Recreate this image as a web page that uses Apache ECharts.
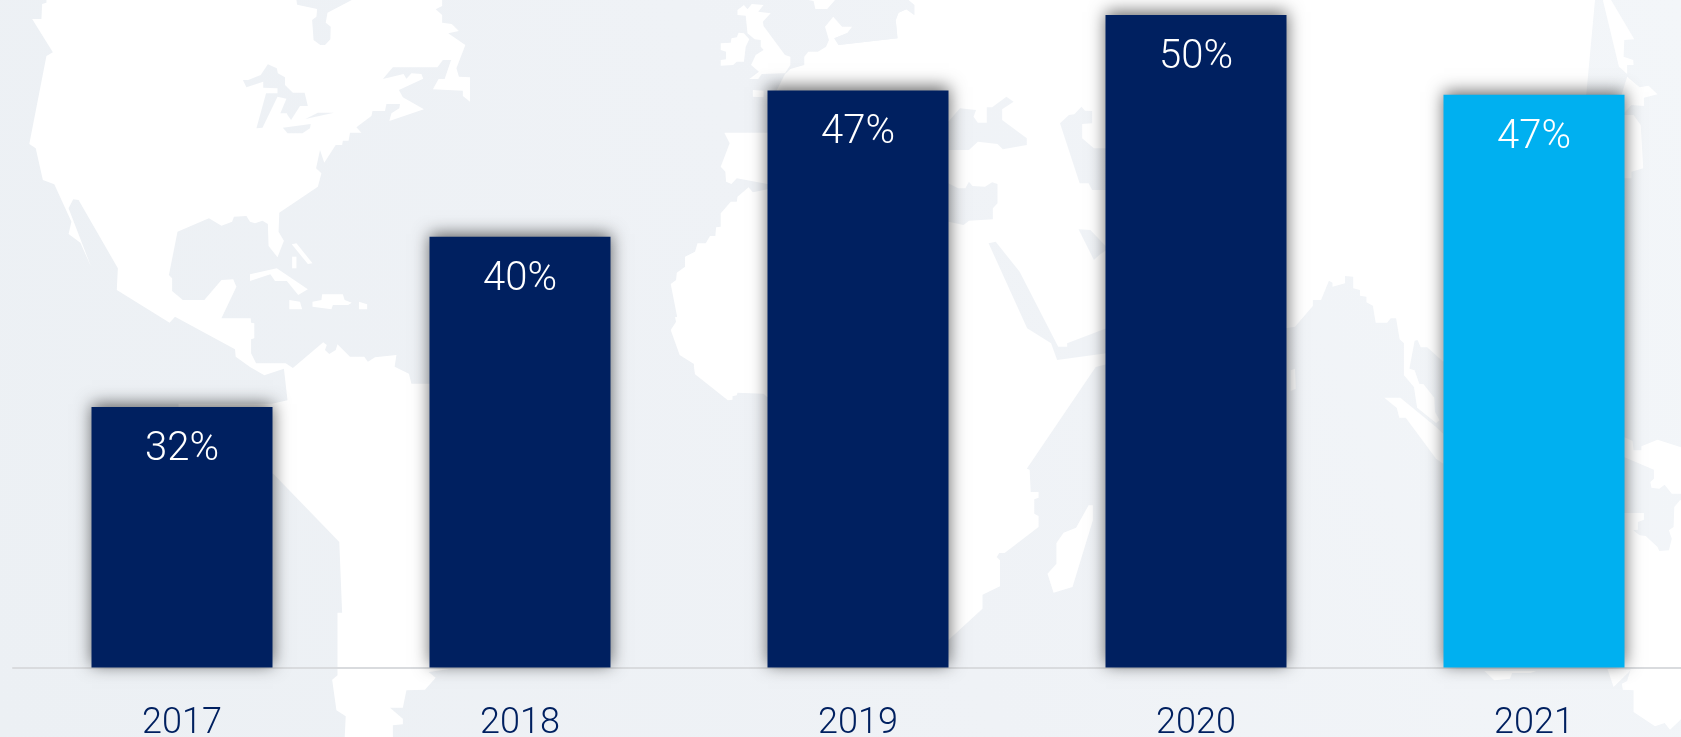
<!DOCTYPE html>
<html>
<head>
<meta charset="utf-8">
<style>html,body{margin:0;padding:0;background:#eef1f5}#c{width:1681px;height:737px}</style>
<script src="https://cdn.jsdelivr.net/npm/echarts@6/dist/echarts.min.js"></script>
</head>
<body>
<div id="c"></div>
<script>
const years = ['2017', '2018', '2019', '2020', '2021'];
const shares = [32.1, 40.0, 46.8, 50.3, 46.6];
const barColors = ['#002060', '#002060', '#002060', '#002060', '#00B0F0'];

const z = (ox, oy, p) => { const r = []; for (let i = 0; i < p.length; i += 2) r.push([ox + p[i] / 2.8, oy + p[i + 1] / 3]); return r; };
const A = [0, 0], B = [560, 0], C = [1120, 0], D = [0, 367], E = [560, 367], F = [1120, 367];
const zz = (o, p) => z(o[0], o[1], p);

const land = [
  // Americas
  [].concat(
    zz(A, [130,0,830,0,832,14,888,27,886,50,874,60,878,120,897,135,910,135,925,118,926,80,912,68,917,38,985,0,1238,0,1238,18,1220,28,1238,45,1238,68,1265,72,1285,93,1255,100,1303,135,1278,205,1285,230,1316,232,1316,305,1296,288,1296,272,1212,268,1228,237,1245,237,1263,180,1240,180,1225,202,1100,202,1072,237,1130,222,1138,236,1152,220,1180,222,1185,236,1117,270,1128,292,1187,328,1090,363,1096,340,1118,325,1120,312,1082,312,1078,333,1043,333,1040,348,998,382,1012,398,980,398,976,422,960,422,958,435,940,435,908,488,896,450,885,505,900,520,890,560,782,638,780,695,795,722,777,772,752,738,750,672,735,662,714,670,700,665,690,648,655,650,650,665,620,677,585,655,497,695,473,825,482,835,482,873,512,900,572,900,620,840,653,838,662,860,620,955,702,955,703,968,712,970,712,1015,703,1018,703,1060,717,1090,800,1090,820,1104,905,1027,915,1035,910,1050,922,1062,940,1050,945,1033,980,1070,1020,1070,1030,1085,1050,1072,1110,1065,1105,1100]),
    zz(D, [1145,20,1152,50,1300,50,1300,900,1200,915,1220,932,1190,968,1138,970,1128,1022,1092,1022,1128,1055,1128,1072,1100,1075,1100,1115,965,1115,968,1048,942,1030,930,938,945,925,945,737,958,737,950,525,945,540,950,525,765,320,500,300,500,110,762,110,805,100,795,5,740,25,700,0]),
    zz(A, [660,1070,658,1048,490,950,475,968,327,870,330,805,220,600,205,598,192,625,255,800,225,728,192,702,200,665,152,553,120,540,100,445,82,432,130,168,148,157,90,57,116,57,118,12,130,8])
  ),
  // Caribbean
  zz(A, [700,823,775,805,862,868,835,885,803,843,770,843,757,823,700,843]),
  zz(A, [875,905,900,900,902,883,960,883,965,900,985,908,975,915,932,915,928,928,875,920]),
  zz(A, [810,900,840,905,846,928,810,928]),
  zz(A, [1005,905,1028,913,1028,928,1005,928]),
  zz(A, [817,733,830,730,875,790,862,792]),
  zz(A, [818,770,830,770,830,805,818,805]),
  // Ireland, Britain, north Europe piece
  zz(B, [450,130,478,128,480,115,495,112,500,98,515,100,530,118,520,140,515,185,495,185,485,195,450,197,450,180,465,178,465,155,450,150]),
  zz(B, [497,30,515,15,525,28,537,12,570,15,555,35,590,40,568,65,570,78,630,165,645,170,645,195,630,220,565,222,555,237,530,237,557,215,535,195,548,165,570,150,562,140,562,120,545,118,525,100,520,47,497,45]),
  zz(B, [695,0,710,3,715,27,748,27,770,0]),
  zz(B, [540,270,570,272,570,292,540,290]),
  // Eurasia and Africa
  [].concat(
    zz(B, [630,222,645,207,684,195,684,170,695,155,722,155,745,140,753,120,742,80,765,50,790,80,818,80,805,98,768,115,780,135,945,115,940,60,948,38,970,28,992,45,992,15,975,0]),
    zz(C, [1330,0,1305,290,1000,900,905,1085,860,1042,842,1042,833,1020,825,1022,810,1108,795,1105,795,1030,783,1018,773,955,758,955,748,968,716,968,708,917,690,907,690,890,672,887,672,870,653,865,653,830,630,828,630,850,595,860,595,848,585,842,563,900,540,900,540,918,490,980,464,985,300,1000]),
    zz(E, [1500,0,1307,305,1315,308,1318,375,1340,375,1340,392,1328,397,1328,440,1340,447,1340,480,1245,558,1230,558,1223,570,1232,580,1232,658,1183,683,1183,725,1087,820,1000,880,700,880,600,90,580,90,570,80,497,77,495,85,483,88,483,98,470,100,378,22,375,0]),
    zz(B, [375,1092,335,1065,310,990,325,965,322,952,328,950,310,852,325,840,327,818,350,800,350,770,378,755,385,730,408,730,420,708,435,708,437,682,450,680,450,640,478,605,495,605,497,590,528,562,540,577,581,568,700,540,700,570,581,552,495,535,480,552,465,545,463,515,450,500,475,430,460,398,581,398,700,380,700,290,600,285])
  ),
  // Madagascar, Sri Lanka, SE Asia
  zz(E, [1365,620,1390,590,1390,528,1410,497,1445,482,1480,415,1492,415,1492,460,1435,660,1382,677]),
  zz(F, [478,10,490,5,492,65,478,72]),
  zz(F, [795,0,825,10,838,50,850,52,880,92,882,135,895,160,885,168,832,122,823,60,795,25]),
  zz(F, [740,92,785,92,885,180,905,200,905,290,885,275,800,152,782,152,775,123]),
  // Japan, east Asia fragments
  zz(C, [1352,0,1375,0,1440,118,1412,120,1410,170,1437,180,1438,195,1420,195,1420,222,1397,200]),
  zz(C, [1400,300,1420,230,1455,262,1480,257,1505,283,1467,293,1467,318,1432,315,1411,340]),
  zz(C, [1400,345,1438,345,1458,375,1465,505,1432,515,1432,535,1400,535]),
  // Indonesia and Australia, right of the last bar
  zz(F, [1400,205,1435,222,1438,250,1460,250,1460,238,1505,218,1575,242,1575,380,1545,380,1525,353,1510,365,1488,362,1485,345,1495,335,1495,308,1411,270,1400,265]),
  zz(F, [1400,438,1467,438,1467,458,1450,465,1450,488,1437,490,1455,505,1472,507,1505,540,1510,552,1537,550,1545,515,1537,490,1550,480,1552,420,1568,400,1575,400,1575,900,1400,900]),
  zz(F, [1430,905,1575,905,1575,1050,1568,1060,1540,1088,1525,1068,1498,1078,1438,1035,1438,970,1408,968,1405,950,1420,942]),
  zz(F, [1365,905,1430,910,1382,960]),
  zz(F, [1020,912,1165,912,1150,918,1098,918,1092,935,1048,940])
];
const seas = [
  // Great Lakes
  zz(A, [680,240,695,240,730,225,750,193,775,205,778,220,798,232,798,255,820,278,853,278,862,318,840,318,815,360,805,345,803,340,785,340,802,296,777,290,735,383,718,385,745,280,777,280,777,265,737,263,737,245,690,262]),
  zz(A, [792,383,870,372,868,385,847,400,805,400]),
  zz(A, [855,357,890,338,935,338]),
  // Black Sea, east Mediterranean, Red Sea, Gulf, Caspian
  zz(B, [1087,365,1120,325,1165,330,1158,350,1170,368,1195,368,1195,322,1210,322,1250,290,1270,305,1238,328,1238,360,1307,415,1307,435,1240,448,1225,432,1170,425,1145,450,1130,450,1087,450]),
  zz(B, [1087,550,1115,565,1135,565,1145,545,1155,558,1190,560,1210,547,1225,552,1225,610,1212,625,1212,658,1145,662,1130,675,1087,665]),
  zz(B, [1200,730,1220,725,1287,815,1395,1040,1420,1040,1420,1030,1530,985,1530,1060,1392,1080,1375,1030,1308,985]),
  zz(B, [1452,688,1485,690,1530,740,1530,750,1510,765,1495,780]),
  zz(B, [1400,370,1425,345,1440,343,1460,320,1470,332,1490,333,1490,370,1462,372,1462,415,1495,445,1530,445,1530,570,1490,570,1480,550,1455,550]),
  // Baltic
  zz(B, [882,0,975,0,992,15,992,45,970,28,948,38,940,60,945,115,780,135,768,115,805,100,818,82,875,72])
];

const pale = {
  type: 'linear', x: 0, y: 737, x2: 1681, y2: 0, global: true,
  colorStops: [{ offset: 0, color: '#ecf0f4' }, { offset: 0.5, color: '#eff2f6' }, { offset: 1, color: '#f3f6f9' }]
};
const poly = (points, fill) => ({ type: 'polygon', silent: true, shape: { points }, style: { fill, stroke: null } });

const chart = echarts.init(document.getElementById('c'), null, { width: 1681, height: 737 });
chart.setOption({
  animation: false,
  backgroundColor: pale,
  graphic: { elements: land.map(p => poly(p, '#ffffff')).concat(seas.map(p => poly(p, pale))) },
  grid: { left: 13, top: 0, width: 1690, height: 667.5, outerBoundsMode: 'none', containLabel: false },
  xAxis: {
    type: 'category',
    data: years,
    axisTick: { show: false },
    axisLine: { lineStyle: { color: '#d9dbde', width: 2 } },
    axisLabel: { color: '#002060', fontFamily: 'Roboto', fontWeight: 300, fontSize: 36, margin: 36, lineHeight: 40 }
  },
  yAxis: { type: 'value', min: 20, max: 51, show: false, splitLine: { show: false } },
  series: [{
    type: 'bar',
    barWidth: 181,
    data: shares.map((v, i) => ({ value: v, itemStyle: { color: barColors[i] } })),
    itemStyle: { shadowBlur: 16, shadowColor: 'rgba(0,0,0,0.6)', shadowOffsetX: 0, shadowOffsetY: -3 },
    label: {
      show: true,
      position: 'insideTop',
      distance: 23,
      color: '#ffffff',
      fontFamily: 'Roboto',
      fontWeight: 300,
      fontSize: 40,
      formatter: p => Math.round(p.value) + '%'
    }
  }]
});
</script>
</body>
</html>
